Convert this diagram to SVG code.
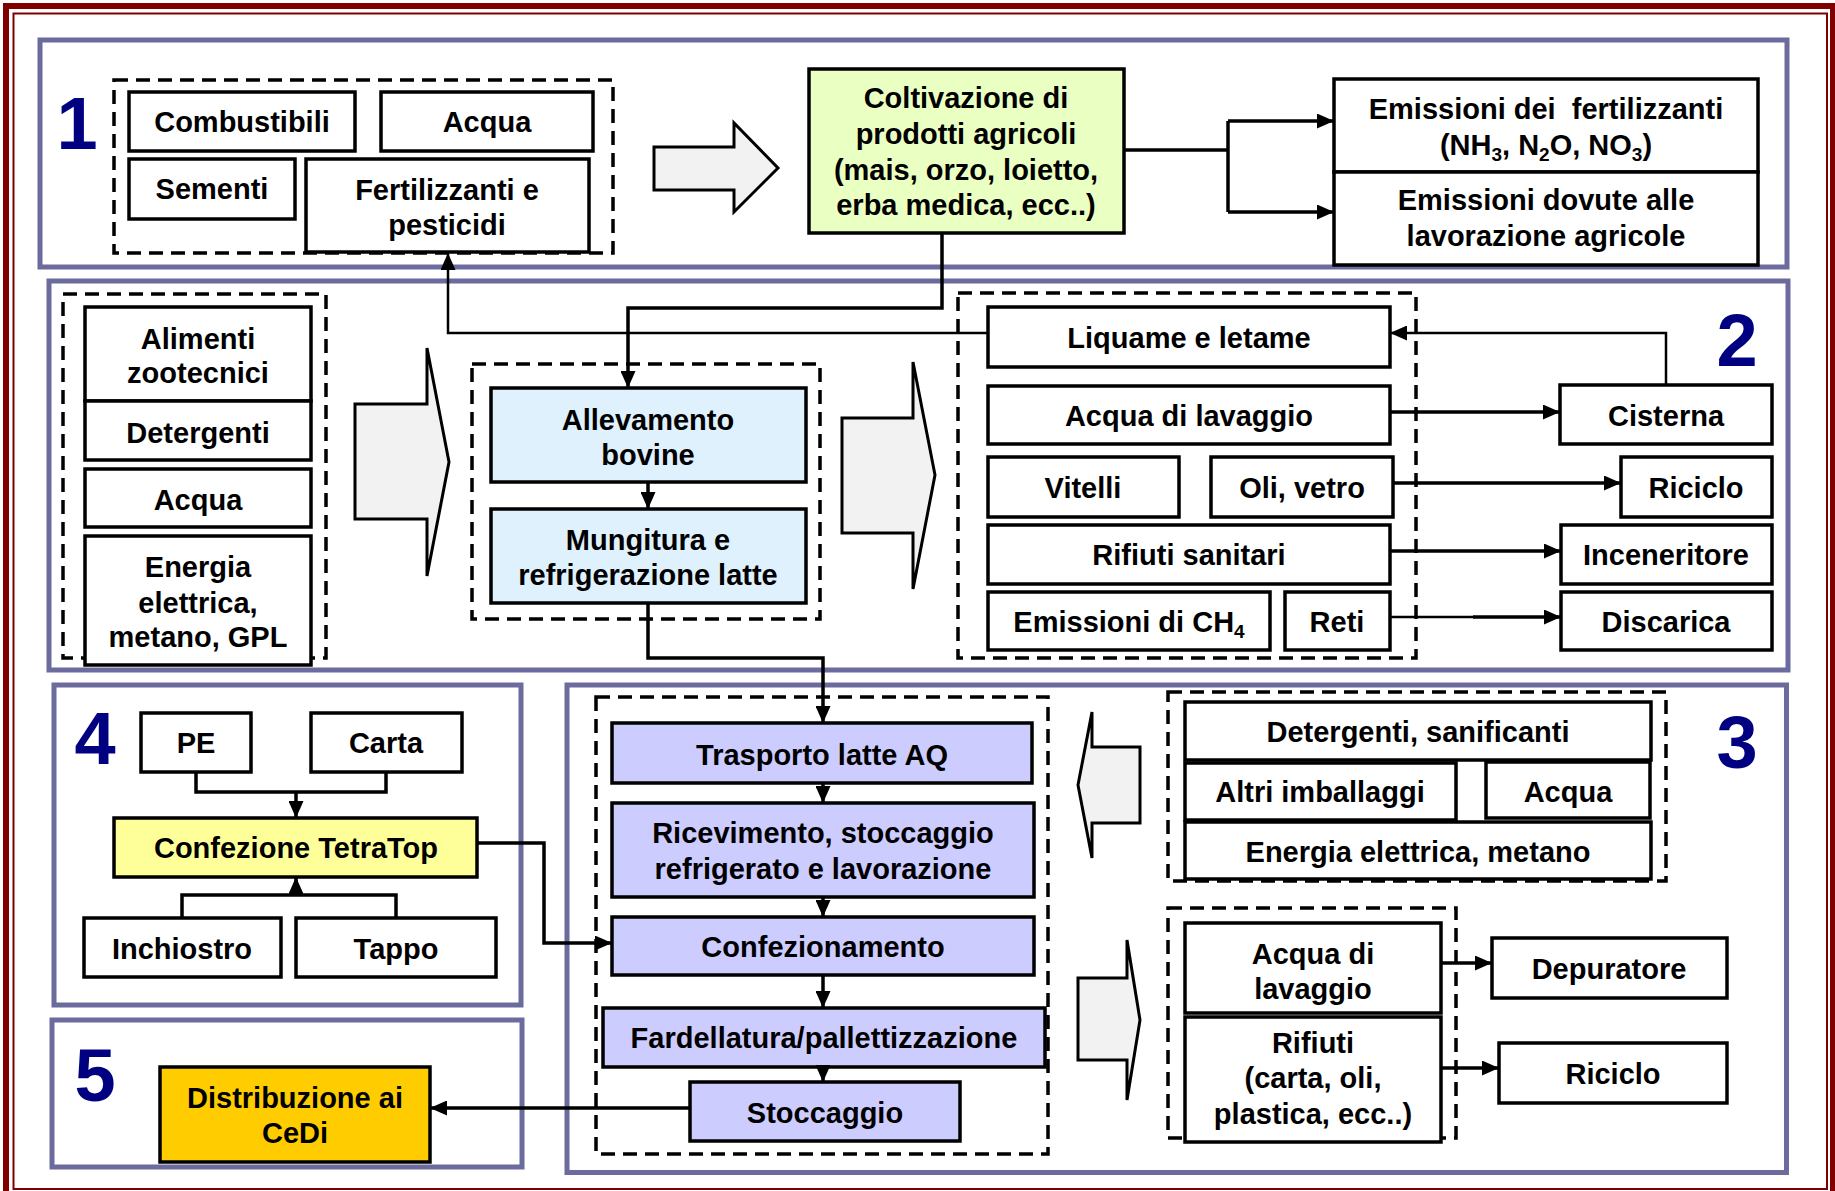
<svg xmlns="http://www.w3.org/2000/svg" width="1835" height="1191" viewBox="0 0 1835 1191">
<style>
.box{fill:#fff;stroke:#000;stroke-width:3.5}
.dash{fill:none;stroke:#000;stroke-width:3.5;stroke-dasharray:14 8}
.panel{fill:#fff;stroke:#6b6b9e;stroke-width:5}
.t{font-family:"Liberation Sans",Arial,sans-serif;font-weight:bold;font-size:29px;text-anchor:middle;fill:#000}
.num{font-family:"Liberation Sans",Arial,sans-serif;font-weight:bold;font-size:74px;text-anchor:middle;fill:#000080}
.conn{fill:none;stroke:#000;stroke-width:3.5}
.thin{fill:none;stroke:#000;stroke-width:2.5}
.blk{fill:#f2f2f2;stroke:#000;stroke-width:3}
.sub{font-size:19px}
</style>
<defs>
<marker id="ah" markerUnits="userSpaceOnUse" markerWidth="17" markerHeight="15" refX="17" refY="7.5" orient="auto">
<path d="M0,0 L17,7.5 L0,15 Z" fill="#000"/>
</marker>
</defs>
<rect x="0" y="0" width="1835" height="1191" fill="#fff"/>
<rect x="6" y="6" width="1827" height="1190" fill="none" stroke="#800000" stroke-width="6"/>
<rect x="13.5" y="13.5" width="1813.5" height="1175.5" fill="none" stroke="#800000" stroke-width="2"/>

<!-- panels -->
<g id="panel1"><rect class="panel" x="40" y="40" width="1747" height="227"/><text class="num" x="77" y="149">1</text></g>
<g id="panel2"><rect class="panel" x="49" y="281" width="1739" height="389"/><text class="num" x="1737" y="366">2</text></g>
<g id="panel3"><rect class="panel" x="567" y="685" width="1219.5" height="487.5"/><text class="num" x="1737" y="768">3</text></g>
<g id="panel4"><rect class="panel" x="54" y="685" width="467" height="320"/><text class="num" x="95" y="764">4</text></g>
<g id="panel5"><rect class="panel" x="52" y="1020" width="470" height="147"/><text class="num" x="95" y="1101">5</text></g>

<!-- dashed groups -->
<g id="groups">
<rect class="dash" x="114" y="80" width="499" height="173"/>
<rect class="dash" x="63" y="294" width="263" height="364"/>
<rect class="dash" x="472" y="364" width="348" height="255"/>
<rect class="dash" x="958" y="293" width="458" height="365"/>
<rect class="dash" x="596" y="697" width="452" height="457"/>
<rect class="dash" x="1168" y="692" width="498" height="189"/>
<rect class="dash" x="1168" y="908" width="288" height="230"/>
</g>

<!-- block arrows -->
<g id="block-arrows">
<path class="blk" d="M654,147 H734 V123 L778,168 L734,212 V190 H654 Z"/>
<path class="blk" d="M355,404 H427 V348 L449,462 L427,576 V519 H355 Z"/>
<path class="blk" d="M842,418 H913 V362 L935,475 L913,589 V533 H842 Z"/>
<path class="blk" d="M1140,747 H1092 V712 L1078,785 L1092,858 V823 H1140 Z"/>
<path class="blk" d="M1078,978 H1127 V940 L1140,1020 L1127,1100 V1060 H1078 Z"/>
</g>

<!-- Section 1 nodes -->
<g id="combustibili"><rect class="box" x="129" y="92" width="226" height="59"/><text class="t" x="242" y="132">Combustibili</text></g>
<g id="acqua1"><rect class="box" x="381" y="92" width="212" height="59"/><text class="t" x="487" y="132">Acqua</text></g>
<g id="sementi"><rect class="box" x="129" y="159" width="166" height="60"/><text class="t" x="212" y="199">Sementi</text></g>
<g id="fertilizzanti"><rect class="box" x="306" y="159" width="283" height="93"/><text class="t" x="447" y="200">Fertilizzanti e</text><text class="t" x="447" y="235">pesticidi</text></g>
<g id="coltivazione"><rect class="box" style="fill:#eaffc2" x="809" y="69" width="315" height="164"/>
<text class="t" x="966" y="108">Coltivazione di</text><text class="t" x="966" y="144">prodotti agricoli</text><text class="t" x="966" y="180">(mais, orzo, loietto,</text><text class="t" x="966" y="215">erba medica, ecc..)</text></g>
<g id="emissioni-fert"><rect class="box" x="1334" y="79" width="424" height="93"/><text class="t" x="1546" y="119">Emissioni dei&#160; fertilizzanti</text>
<text class="t" x="1546" y="155">(NH<tspan class="sub" dy="6">3</tspan><tspan dy="-6">, N</tspan><tspan class="sub" dy="6">2</tspan><tspan dy="-6">O, NO</tspan><tspan class="sub" dy="6">3</tspan><tspan dy="-6">)</tspan></text></g>
<g id="emissioni-lav"><rect class="box" x="1334" y="172" width="424" height="93"/><text class="t" x="1546" y="210">Emissioni dovute alle</text><text class="t" x="1546" y="246">lavorazione agricole</text></g>

<!-- Section 2 nodes -->
<g id="alimenti"><rect class="box" x="85" y="307" width="226" height="94"/><text class="t" x="198" y="349">Alimenti</text><text class="t" x="198" y="383">zootecnici</text></g>
<g id="detergenti2"><rect class="box" x="85" y="401" width="226" height="59"/><text class="t" x="198" y="443">Detergenti</text></g>
<g id="acqua2"><rect class="box" x="85" y="469" width="226" height="58"/><text class="t" x="198" y="510">Acqua</text></g>
<g id="energia2"><rect class="box" x="85" y="536" width="226" height="129"/><text class="t" x="198" y="577">Energia</text><text class="t" x="198" y="613">elettrica,</text><text class="t" x="198" y="647">metano, GPL</text></g>
<g id="allevamento"><rect class="box" style="fill:#dff1fd" x="491" y="388" width="315" height="94"/><text class="t" x="648" y="430">Allevamento</text><text class="t" x="648" y="465">bovine</text></g>
<g id="mungitura"><rect class="box" style="fill:#dff1fd" x="491" y="509" width="315" height="94"/><text class="t" x="648" y="550">Mungitura e</text><text class="t" x="648" y="585">refrigerazione latte</text></g>
<g id="liquame"><rect class="box" x="988" y="307" width="402" height="60"/><text class="t" x="1189" y="348">Liquame e letame</text></g>
<g id="acqua-lav2"><rect class="box" x="988" y="386" width="402" height="58"/><text class="t" x="1189" y="426">Acqua di lavaggio</text></g>
<g id="vitelli"><rect class="box" x="988" y="457" width="191" height="60"/><text class="t" x="1083" y="498">Vitelli</text></g>
<g id="oli-vetro"><rect class="box" x="1211" y="457" width="182" height="60"/><text class="t" x="1302" y="498">Oli, vetro</text></g>
<g id="rifiuti-sanitari"><rect class="box" x="988" y="525" width="402" height="59"/><text class="t" x="1189" y="565">Rifiuti sanitari</text></g>
<g id="emissioni-ch4"><rect class="box" x="988" y="592" width="282" height="58"/><text class="t" x="1129" y="632">Emissioni di CH<tspan class="sub" dy="6">4</tspan></text></g>
<g id="reti"><rect class="box" x="1285" y="592" width="105" height="58"/><text class="t" x="1337" y="632">Reti</text></g>
<g id="cisterna"><rect class="box" x="1560" y="385" width="212" height="59"/><text class="t" x="1666" y="426">Cisterna</text></g>
<g id="riciclo2"><rect class="box" x="1621" y="457" width="151" height="60"/><text class="t" x="1696" y="498">Riciclo</text></g>
<g id="inceneritore"><rect class="box" x="1561" y="525" width="211" height="59"/><text class="t" x="1666" y="565">Inceneritore</text></g>
<g id="discarica"><rect class="box" x="1561" y="592" width="211" height="58"/><text class="t" x="1666" y="632">Discarica</text></g>

<!-- Section 4 nodes -->
<g id="pe"><rect class="box" x="141" y="713" width="110" height="59"/><text class="t" x="196" y="753">PE</text></g>
<g id="carta"><rect class="box" x="311" y="713" width="151" height="59"/><text class="t" x="386" y="753">Carta</text></g>
<g id="confezione-tetratop"><rect class="box" style="fill:#ffff99" x="114" y="818" width="363" height="59"/><text class="t" x="296" y="858">Confezione TetraTop</text></g>
<g id="inchiostro"><rect class="box" x="84" y="918" width="197" height="59"/><text class="t" x="182" y="959">Inchiostro</text></g>
<g id="tappo"><rect class="box" x="296" y="918" width="200" height="59"/><text class="t" x="396" y="959">Tappo</text></g>

<!-- Section 5 node -->
<g id="distribuzione"><rect class="box" style="fill:#ffcc00" x="160" y="1067" width="270" height="95"/><text class="t" x="295" y="1108">Distribuzione ai</text><text class="t" x="295" y="1143">CeDi</text></g>

<!-- Section 3 nodes -->
<g id="trasporto"><rect class="box" style="fill:#ccccff" x="612" y="723" width="420" height="60"/><text class="t" x="822" y="765">Trasporto latte AQ</text></g>
<g id="ricevimento"><rect class="box" style="fill:#ccccff" x="612" y="803" width="422" height="94"/><text class="t" x="823" y="843">Ricevimento, stoccaggio</text><text class="t" x="823" y="879">refrigerato e lavorazione</text></g>
<g id="confezionamento"><rect class="box" style="fill:#ccccff" x="612" y="917" width="422" height="58"/><text class="t" x="823" y="957">Confezionamento</text></g>
<g id="fardellatura"><rect class="box" style="fill:#ccccff" x="603" y="1008" width="442" height="59"/><text class="t" x="824" y="1048">Fardellatura/pallettizzazione</text></g>
<g id="stoccaggio"><rect class="box" style="fill:#ccccff" x="690" y="1082" width="270" height="59"/><text class="t" x="825" y="1123">Stoccaggio</text></g>
<g id="detergenti3"><rect class="box" x="1185" y="702" width="466" height="58"/><text class="t" x="1418" y="742">Detergenti, sanificanti</text></g>
<g id="altri-imballaggi"><rect class="box" x="1185" y="763" width="271" height="57"/><text class="t" x="1320" y="802">Altri imballaggi</text></g>
<g id="acqua3"><rect class="box" x="1486" y="762" width="164" height="56"/><text class="t" x="1568" y="802">Acqua</text></g>
<g id="energia3"><rect class="box" x="1185" y="822" width="466" height="57"/><text class="t" x="1418" y="862">Energia elettrica, metano</text></g>
<g id="acqua-lav3"><rect class="box" x="1185" y="923" width="256" height="90"/><text class="t" x="1313" y="964">Acqua di</text><text class="t" x="1313" y="999">lavaggio</text></g>
<g id="rifiuti3"><rect class="box" x="1185" y="1017" width="256" height="125"/><text class="t" x="1313" y="1053">Rifiuti</text><text class="t" x="1313" y="1088">(carta, oli,</text><text class="t" x="1313" y="1124">plastica, ecc..)</text></g>
<g id="depuratore"><rect class="box" x="1492" y="938" width="235" height="60"/><text class="t" x="1609" y="979">Depuratore</text></g>
<g id="riciclo3"><rect class="box" x="1499" y="1043" width="228" height="60"/><text class="t" x="1613" y="1084">Riciclo</text></g>

<!-- connectors -->
<g id="connectors">
<path class="conn" d="M1124,150 H1228"/>
<path class="conn" d="M1228,121 V212"/>
<path class="conn" d="M1228,121 H1334" marker-end="url(#ah)"/>
<path class="conn" d="M1228,212 H1334" marker-end="url(#ah)"/>
<path class="conn" d="M942,233 V308 H628 V388" marker-end="url(#ah)"/>
<path class="thin" d="M988,333 H448 V253" marker-end="url(#ah)"/>
<path class="conn" d="M648,482 V509" marker-end="url(#ah)"/>
<path class="conn" d="M648,603 V658 H823 V723" marker-end="url(#ah)"/>
<path class="thin" d="M1666,385 V333 H1390" marker-end="url(#ah)"/>
<path class="conn" d="M1390,412 H1560" marker-end="url(#ah)"/>
<path class="conn" d="M1393,483 H1621" marker-end="url(#ah)"/>
<path class="conn" d="M1390,551 H1561" marker-end="url(#ah)"/>
<path class="thin" d="M1390,617 H1475"/>
<path class="conn" d="M1473,617 H1561" marker-end="url(#ah)"/>
<path class="conn" d="M196,772 V792 H386 V772"/>
<path class="conn" d="M296,792 V818" marker-end="url(#ah)"/>
<path class="conn" d="M182,918 V895 H396 V918"/>
<path class="conn" d="M296,895 V877" marker-end="url(#ah)"/>
<path class="conn" d="M477,843 H544 V943 H612" marker-end="url(#ah)"/>
<path class="conn" d="M823,783 V803" marker-end="url(#ah)"/>
<path class="conn" d="M823,897 V917" marker-end="url(#ah)"/>
<path class="conn" d="M823,975 V1008" marker-end="url(#ah)"/>
<path class="conn" d="M823,1067 V1082" marker-end="url(#ah)"/>
<path class="conn" d="M690,1108 H430" marker-end="url(#ah)"/>
<path class="conn" d="M1441,963 H1492" marker-end="url(#ah)"/>
<path class="conn" d="M1441,1068 H1499" marker-end="url(#ah)"/>
</g>
</svg>
